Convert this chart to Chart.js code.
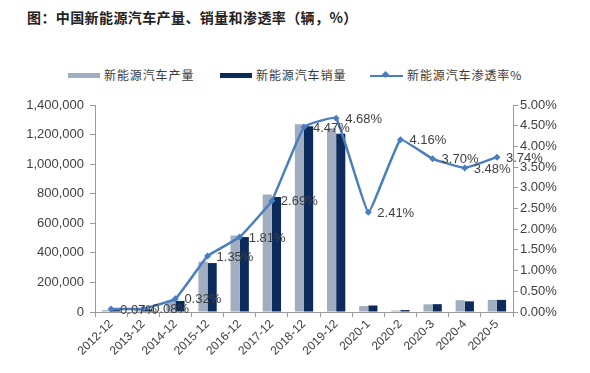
<!DOCTYPE html>
<html>
<head>
<meta charset="utf-8">
<script src="https://cdn.jsdelivr.net/npm/chart.js@4.4.1/dist/chart.umd.min.js"></script>
<style>
    html, body { margin: 0; padding: 0; background: #fff; }
    #wrap { position: relative; width: 590px; height: 373px; overflow: hidden; }
    #titulo {
        position: absolute; left: 27px; top: 7px;
        font-family: "Noto Sans CJK SC", sans-serif; font-weight: 700;
        font-size: 14px; letter-spacing: 0.4px; color: #222;
    }
    .leg {
        position: absolute; top: 66px; height: 18px; line-height: 18px;
        font-family: "Noto Sans CJK SC", sans-serif; font-size: 12px;
        letter-spacing: 0.9px; color: #3a3a3a; white-space: nowrap;
    }
    .sw { display: inline-block; width: 32px; height: 5px; vertical-align: middle; margin-right: 4px; position: relative; top: -1px; }
    .ln { display: inline-block; width: 33px; height: 2px; background: #4a7dbf; vertical-align: middle; margin-right: 4px; position: relative; top: -1px; }
    .ln:after { content: ""; position: absolute; left: 13px; top: -3px; width: 5px; height: 5px; background: #4a7dbf; transform: rotate(45deg); }
    canvas { position: absolute; left: 0; top: 0; }
</style>
</head>
<body>
<div id="wrap">
    <div id="titulo">图：中国新能源汽车产量、销量和渗透率（辆，%）</div>
    <div class="leg" style="left:68px"><span class="sw" style="background:#a1aec0"></span>新能源汽车产量</div>
    <div class="leg" style="left:220px"><span class="sw" style="background:#0c2b5c"></span>新能源汽车销量</div>
    <div class="leg" style="left:370px"><span class="ln"></span>新能源汽车渗透率%</div>
    <canvas id="grafico" width="590" height="373"></canvas>
</div>
<script>
// dados
const categorias = ['2012-12', '2013-12', '2014-12', '2015-12', '2016-12', '2017-12', '2018-12',
    '2019-12', '2020-1', '2020-2', '2020-3', '2020-4', '2020-5'];
const producao = [12500, 17500, 78500, 340500, 517000, 794000, 1270000, 1242000, 40000, 10000, 52000, 80000, 82000];
const vendas = [13000, 17600, 74800, 331000, 507000, 777000, 1256000, 1206000, 44000, 13000, 53000, 72000, 82000];
const penetracao = [0.07, 0.08, 0.32, 1.35, 1.81, 2.69, 4.47, 4.68, 2.41, 4.16, 3.70, 3.48, 3.74];
const nomesSeries = ['新能源汽车产量', '新能源汽车销量', '新能源汽车渗透率%'];

const corEixo = '#9a9a9a';
const corTexto = '#404040';

// plugin simples para os rótulos de porcentagem à direita dos pontos
const rotulosLinha = {
    id: 'rotulosLinha',
    afterDatasetsDraw(chart) {
        const meta = chart.getDatasetMeta(2);
        const ctx = chart.ctx;
        ctx.save();
        ctx.font = '13px "Liberation Sans", Arial, sans-serif';
        ctx.fillStyle = corTexto;
        ctx.textAlign = 'left';
        ctx.textBaseline = 'middle';
        meta.data.forEach(function (pt, i) {
            ctx.fillText(penetracao[i].toFixed(2) + '%', pt.x + 9, pt.y + 1);
        });
        ctx.restore();
    }
};

const ctx = document.getElementById('grafico');
new Chart(ctx, {
    data: {
        labels: categorias,
        datasets: [{
            type: 'bar',
            label: nomesSeries[0],
            data: producao,
            backgroundColor: '#a1aec0',
            yAxisID: 'y',
            categoryPercentage: 0.57,
            barPercentage: 1.0,
            order: 2
        }, {
            type: 'bar',
            label: nomesSeries[1],
            data: vendas,
            backgroundColor: '#0c2b5c',
            yAxisID: 'y',
            categoryPercentage: 0.57,
            barPercentage: 1.0,
            order: 2
        }, {
            type: 'line',
            label: nomesSeries[2],
            data: penetracao,
            borderColor: '#4a7dbf',
            backgroundColor: '#4a7dbf',
            borderWidth: 2.5,
            tension: 0.1,
            pointStyle: 'rectRot',
            pointRadius: 3.5,
            pointBorderWidth: 0,
            yAxisID: 'y1',
            order: 1
        }]
    },
    options: {
        responsive: false,
        animation: false,
        layout: { padding: { top: 105, left: 0, right: 0, bottom: 0 } },
        plugins: {
            legend: { display: false },
            tooltip: { enabled: false }
        },
        scales: {
            x: {
                grid: { drawOnChartArea: false, color: corEixo, tickLength: 5, offset: true },
                border: { color: corEixo, width: 1 },
                ticks: {
                    color: corTexto,
                    font: { family: '"Liberation Sans", Arial, sans-serif', size: 12 },
                    maxRotation: 45, minRotation: 45, padding: 0, autoSkip: false
                },
                afterFit: function (scale) { scale.height = 61; }
            },
            y: {
                position: 'left',
                min: 0, max: 1400000,
                grid: { drawOnChartArea: false, color: corEixo, tickLength: 5 },
                border: { color: corEixo, width: 1 },
                ticks: {
                    stepSize: 200000,
                    color: corTexto,
                    padding: 6,
                    font: { family: '"Liberation Sans", Arial, sans-serif', size: 13 },
                    callback: function (v) { return v.toLocaleString('en-US'); }
                },
                afterFit: function (scale) { scale.width = 95; }
            },
            y1: {
                position: 'right',
                min: 0, max: 5,
                grid: { drawOnChartArea: false, color: corEixo, tickLength: 5 },
                border: { color: corEixo, width: 1 },
                ticks: {
                    stepSize: 0.5,
                    color: corTexto,
                    padding: 2,
                    font: { family: '"Liberation Sans", Arial, sans-serif', size: 13 },
                    callback: function (v) { return v.toFixed(2) + '%'; }
                },
                afterFit: function (scale) { scale.width = 77; }
            }
        }
    },
    plugins: [rotulosLinha]
});
</script>
</body>
</html>
